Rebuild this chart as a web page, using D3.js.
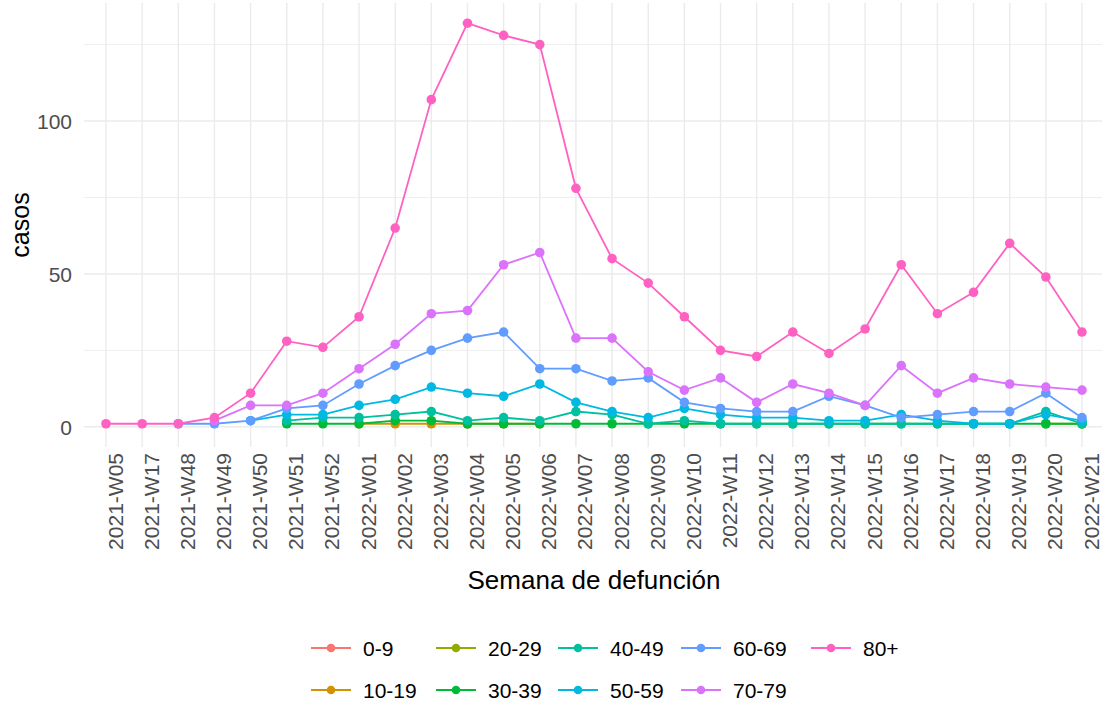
<!DOCTYPE html>
<html><head><meta charset="utf-8">
<script src="https://cdn.jsdelivr.net/npm/d3@7"></script>
<style>body{margin:0;background:#fff}svg{display:block}text{font-family:"Liberation Sans",Arial,sans-serif}</style>
</head><body>
<svg id="chart" width="1102" height="704"></svg>
<script>
const weeks = ["2021-W05","2021-W17","2021-W48","2021-W49","2021-W50","2021-W51","2021-W52",
  "2022-W01","2022-W02","2022-W03","2022-W04","2022-W05","2022-W06","2022-W07","2022-W08","2022-W09",
  "2022-W10","2022-W11","2022-W12","2022-W13","2022-W14","2022-W15","2022-W16","2022-W17","2022-W18",
  "2022-W19","2022-W20","2022-W21"];
const groups = ["0-9","10-19","20-29","30-39","40-49","50-59","60-69","70-79","80+"];
const colors = ["#F8766D","#D39200","#93AA00","#00BA38","#00C19F","#00B9E3","#619CFF","#DB72FB","#FF61C3"];
const _ = null;
const s0_9   = [_,_,_,_,_,_,_,_,_,_,1,_,_,_,_,_,_,_,_,_,_,_,_,_,_,_,_,_];
const s10_19 = [_,_,_,_,_,_,_,1,1,1,1,1,1,_,_,_,_,_,_,_,_,_,_,_,_,_,_,_];
const s20_29 = [_,_,_,_,_,_,_,_,_,_,_,_,_,_,_,_,_,_,_,_,_,_,_,_,_,_,1,1];
const s30_39 = [_,_,_,_,_,1,1,1,2,2,1,1,1,1,1,1,1,1,1,1,1,1,1,1,1,1,1,1];
const s40_49 = [_,_,_,_,_,2,3,3,4,5,2,3,2,5,4,1,2,1,1,1,1,1,1,1,1,1,5,1];
const s50_59 = [_,_,_,_,2,4,4,7,9,13,11,10,14,8,5,3,6,4,3,3,2,2,4,2,1,1,4,2];
const s60_69 = [_,_,1,1,2,6,7,14,20,25,29,31,19,19,15,16,8,6,5,5,10,7,3,4,5,5,11,3];
const s70_79 = [_,_,_,2,7,7,11,19,27,37,38,53,57,29,29,18,12,16,8,14,11,7,20,11,16,14,13,12];
const s80p   = [1,1,1,3,11,28,26,36,65,107,132,128,125,78,55,47,36,25,23,31,24,32,53,37,44,60,49,31];
const seriesValues = [s0_9,s10_19,s20_29,s30_39,s40_49,s50_59,s60_69,s70_79,s80p];
const yTicks = [0,50,100];
const yMinor = [25,75,125];

const svg = d3.select("#chart");
const x = d3.scalePoint().domain(weeks).range([106,1082]);
const y = d3.scaleLinear().domain([-6.6,138.6]).range([447,3]);
const panel = {l:84, r:1104, t:3, b:447};

// grid
const g = svg.append("g");
g.selectAll(".ymin").data(yMinor).enter().append("line")
  .attr("x1",panel.l).attr("x2",panel.r).attr("y1",d=>y(d)).attr("y2",d=>y(d))
  .attr("stroke","#EBEBEB").attr("stroke-width",0.8);
g.selectAll(".ymaj").data(yTicks).enter().append("line")
  .attr("x1",panel.l).attr("x2",panel.r).attr("y1",d=>y(d)).attr("y2",d=>y(d))
  .attr("stroke","#EBEBEB").attr("stroke-width",1.4);
g.selectAll(".xmaj").data(weeks).enter().append("line")
  .attr("x1",d=>x(d)).attr("x2",d=>x(d)).attr("y1",panel.t).attr("y2",panel.b)
  .attr("stroke","#EBEBEB").attr("stroke-width",1.4);

// axes (text only)
const yAxis = d3.axisLeft(y).tickValues(yTicks).tickSize(0).tickPadding(0);
const ya = svg.append("g").attr("transform","translate(72,0)").call(yAxis);
ya.select(".domain").remove();
ya.selectAll("text").attr("fill","#4D4D4D").style("font-size","21px").attr("dy","0.36em")
  .style("font-family","'Liberation Sans',Arial,sans-serif");

const xAxis = d3.axisBottom(x).tickSize(0).tickPadding(0);
const xa = svg.append("g").attr("transform","translate(0,453)").call(xAxis);
xa.select(".domain").remove();
xa.selectAll("text").attr("fill","#4D4D4D").style("font-size","21px")
  .style("font-family","'Liberation Sans',Arial,sans-serif")
  .attr("text-anchor","end").attr("y",0).attr("dy",0)
  .attr("transform","translate(16,0) rotate(-90)");

svg.append("text").attr("x",594).attr("y",589).attr("text-anchor","middle")
  .style("font-size","26px").attr("fill","#000").text("Semana de defunción");
svg.append("text").attr("transform","translate(29,225) rotate(-90)").attr("text-anchor","middle")
  .style("font-size","25px").attr("fill","#000").text("casos");

// series
const line = d3.line().defined(d=>d.v!==null).x(d=>x(d.w)).y(d=>y(d.v));
groups.forEach((grp,i)=>{
  const data = weeks.map((w,j)=>({w, v: seriesValues[i][j]}));
  const sg = svg.append("g");
  sg.append("path").datum(data.filter(d=>d.v!==null)).attr("d",line)
    .attr("fill","none").attr("stroke",colors[i]).attr("stroke-width",1.8);
  sg.selectAll("circle").data(data.filter(d=>d.v!==null)).enter().append("circle")
    .attr("cx",d=>x(d.w)).attr("cy",d=>y(d.v)).attr("r",4.8).attr("fill",colors[i]);
});

// legend
const colLabelX = [363,488,610,733,863];
const rowY = [648,690];
groups.forEach((grp,i)=>{
  const col = Math.floor(i/2), row = i%2;
  const lx = colLabelX[col], ly = rowY[row];
  const kc = lx - 32;
  const lg = svg.append("g");
  lg.append("line").attr("x1",kc-20).attr("x2",kc+20).attr("y1",ly).attr("y2",ly)
    .attr("stroke",colors[i]).attr("stroke-width",1.8);
  lg.append("circle").attr("cx",kc).attr("cy",ly).attr("r",4.3).attr("fill",colors[i]);
  lg.append("text").attr("x",lx).attr("y",ly).attr("dy","0.36em")
    .style("font-size","21px").attr("fill","#000").text(grp);
});
</script>
</body></html>
